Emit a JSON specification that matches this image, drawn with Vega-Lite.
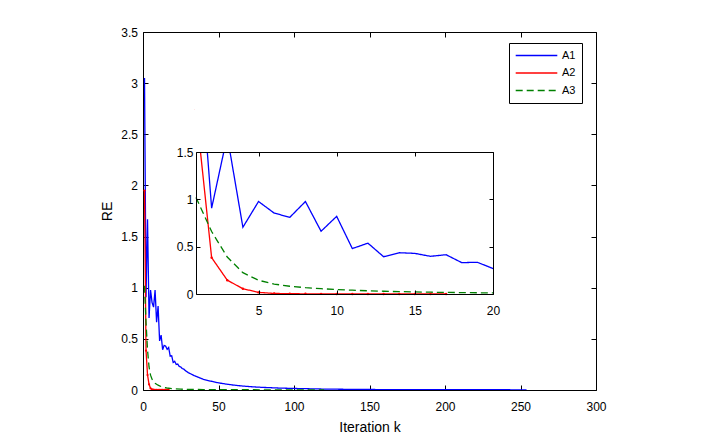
{
 "$schema": "https://vega.github.io/schema/vega-lite/v6.json",
 "autosize": "none",
 "width": 453,
 "height": 358,
 "padding": {"left": 143, "top": 32, "right": 119, "bottom": 48},
 "background": "white",
 "config": {
  "font": "Liberation Sans",
  "view": {"stroke": null},
  "axis": {"domainColor": "black", "tickColor": "black", "labelColor": "black", "titleColor": "black", "labelFontSize": 12, "titleFontSize": 14, "titleFontWeight": "normal", "grid": false, "tickSize": -5, "domainWidth": 1, "tickWidth": 1, "labelFont": "Liberation Sans", "titleFont": "Liberation Sans", "format": "~f", "labelFlush": false},
  "axisX": {"labelPadding": 16},
  "axisY": {"labelPadding": 10.5}
 },
 "datasets": {
  "re": [
   {"k":1,"v":3.05,"s":"A1"},{"k":2,"v":0.907,"s":"A1"},{"k":3,"v":1.67,"s":"A1"},{"k":4,"v":0.705,"s":"A1"},{"k":5,"v":0.977,"s":"A1"},{"k":6,"v":0.855,"s":"A1"},{"k":7,"v":0.81,"s":"A1"},{"k":8,"v":0.977,"s":"A1"},{"k":9,"v":0.663,"s":"A1"},{"k":10,"v":0.82,"s":"A1"},{"k":11,"v":0.48,"s":"A1"},{"k":12,"v":0.537,"s":"A1"},{"k":13,"v":0.394,"s":"A1"},{"k":14,"v":0.436,"s":"A1"},{"k":15,"v":0.429,"s":"A1"},{"k":16,"v":0.398,"s":"A1"},{"k":17,"v":0.415,"s":"A1"},{"k":18,"v":0.331,"s":"A1"},{"k":19,"v":0.335,"s":"A1"},{"k":20,"v":0.269,"s":"A1"},{"k":21,"v":0.28,"s":"A1"},{"k":22,"v":0.25,"s":"A1"},{"k":23,"v":0.255,"s":"A1"},{"k":24,"v":0.23,"s":"A1"},{"k":25,"v":0.225,"s":"A1"},{"k":26,"v":0.21,"s":"A1"},{"k":27,"v":0.205,"s":"A1"},{"k":28,"v":0.19,"s":"A1"},{"k":29,"v":0.18,"s":"A1"},{"k":30,"v":0.17,"s":"A1"},{"k":32,"v":0.155,"s":"A1"},{"k":34,"v":0.14,"s":"A1"},{"k":36,"v":0.128,"s":"A1"},{"k":38,"v":0.116,"s":"A1"},{"k":40,"v":0.105,"s":"A1"},{"k":45,"v":0.086,"s":"A1"},{"k":50,"v":0.07,"s":"A1"},{"k":55,"v":0.058,"s":"A1"},{"k":60,"v":0.048,"s":"A1"},{"k":65,"v":0.04,"s":"A1"},{"k":70,"v":0.034,"s":"A1"},{"k":75,"v":0.029,"s":"A1"},{"k":80,"v":0.025,"s":"A1"},{"k":90,"v":0.019,"s":"A1"},{"k":100,"v":0.015,"s":"A1"},{"k":110,"v":0.012,"s":"A1"},{"k":120,"v":0.009,"s":"A1"},{"k":140,"v":0.006,"s":"A1"},{"k":160,"v":0.004,"s":"A1"},{"k":200,"v":0.003,"s":"A1"},{"k":254,"v":0.002,"s":"A1"},
   {"k":1,"v":1.95,"s":"A2"},{"k":2,"v":0.384,"s":"A2"},{"k":3,"v":0.146,"s":"A2"},{"k":4,"v":0.056,"s":"A2"},{"k":5,"v":0.017,"s":"A2"},{"k":6,"v":0.006,"s":"A2"},{"k":7,"v":0.003,"s":"A2"},{"k":8,"v":0.002,"s":"A2"},{"k":9,"v":0.0015,"s":"A2"},{"k":10,"v":0.001,"s":"A2"},{"k":11,"v":0.0008,"s":"A2"},{"k":12,"v":0.0006,"s":"A2"},{"k":13,"v":0.0005,"s":"A2"},{"k":14,"v":0.0004,"s":"A2"},{"k":15,"v":0.0003,"s":"A2"},{"k":16,"v":0.0003,"s":"A2"},{"k":17,"v":0.0002,"s":"A2"},
   {"k":1,"v":1.02,"s":"A3"},{"k":2,"v":0.66,"s":"A3"},{"k":3,"v":0.39,"s":"A3"},{"k":4,"v":0.225,"s":"A3"},{"k":5,"v":0.145,"s":"A3"},{"k":6,"v":0.105,"s":"A3"},{"k":7,"v":0.082,"s":"A3"},{"k":8,"v":0.067,"s":"A3"},{"k":9,"v":0.056,"s":"A3"},{"k":10,"v":0.047,"s":"A3"},{"k":11,"v":0.04,"s":"A3"},{"k":12,"v":0.034,"s":"A3"},{"k":13,"v":0.029,"s":"A3"},{"k":14,"v":0.025,"s":"A3"},{"k":15,"v":0.022,"s":"A3"},{"k":16,"v":0.019,"s":"A3"},{"k":17,"v":0.017,"s":"A3"},{"k":18,"v":0.015,"s":"A3"},{"k":19,"v":0.013,"s":"A3"},{"k":20,"v":0.012,"s":"A3"},{"k":25,"v":0.008,"s":"A3"},{"k":30,"v":0.006,"s":"A3"},{"k":40,"v":0.004,"s":"A3"},{"k":60,"v":0.003,"s":"A3"},{"k":80,"v":0.002,"s":"A3"},{"k":100,"v":0.0015,"s":"A3"},{"k":120,"v":0.001,"s":"A3"}
  ]
 },
 "resolve": {"scale": {"x": "independent", "y": "independent"}},
 "layer": [
  {
   "data": {"name": "re"},
   "resolve": {"axis": {"x": "independent", "y": "independent"}},
   "layer": [
    {
     "mark": {"type": "line", "strokeWidth": 1.3, "clip": true},
     "encoding": {
      "x": {"field": "k", "type": "quantitative", "scale": {"domain": [0, 300], "nice": false}, "axis": {"values": [0,50,100,150,200,250,300], "title": "Iteration k", "titlePadding": 8}},
      "y": {"field": "v", "type": "quantitative", "scale": {"domain": [0, 3.5], "nice": false}, "axis": {"values": [0,0.5,1,1.5,2,2.5,3,3.5], "title": "RE", "titlePadding": 6}},
      "color": {"field": "s", "type": "nominal", "scale": {"domain": ["A1","A2","A3"], "range": ["#0000ff","#ff0000","#008000"]}, "legend": {"title": null, "orient": "none", "legendX": 366, "legendY": 11, "symbolType": "stroke", "symbolSize": 1730, "clipHeight": 13, "rowPadding": 4.5, "padding": 6, "labelOffset": 4, "labelFontSize": 11, "labelFont": "Liberation Sans", "labelColor": "black", "strokeColor": "black", "fillColor": "white", "symbolStrokeWidth": 1.3}},
      "strokeDash": {"field": "s", "type": "nominal", "scale": {"domain": ["A1","A2","A3"], "range": [[1,0],[1,0],[7,4]]}, "legend": {"title": null, "orient": "none", "legendX": 366, "legendY": 11, "symbolType": "stroke", "symbolSize": 1730, "clipHeight": 13, "rowPadding": 4.5, "padding": 6, "labelOffset": 4, "labelFontSize": 11, "labelFont": "Liberation Sans", "labelColor": "black", "strokeColor": "black", "fillColor": "white", "symbolStrokeWidth": 1.3}}
     }
    },
    {
     "transform": [{"filter": "datum.s === 'A2'"}],
     "mark": {"type": "point", "filled": true, "size": 5, "color": "#ff0000", "opacity": 1, "clip": true},
     "encoding": {
      "x": {"field": "k", "type": "quantitative", "scale": {"domain": [0, 300], "nice": false}, "axis": null},
      "y": {"field": "v", "type": "quantitative", "scale": {"domain": [0, 3.5], "nice": false}, "axis": null}
     }
    },
    {
     "mark": {"type": "line", "opacity": 0},
     "encoding": {
      "x": {"field": "k", "type": "quantitative", "scale": {"domain": [0, 300], "nice": false}, "axis": {"orient": "top", "values": [0,50,100,150,200,250,300], "labels": false, "title": null, "zindex": 1}},
      "y": {"field": "v", "type": "quantitative", "scale": {"domain": [0, 3.5], "nice": false}, "axis": {"orient": "right", "values": [0,0.5,1,1.5,2,2.5,3,3.5], "labels": false, "title": null, "zindex": 1}}
     }
    }
   ]
  },
  {
   "resolve": {"axis": {"x": "independent", "y": "independent"}},
   "layer": [
    {
     "data": {"values": [{}]},
     "mark": {"type": "rect", "fill": "white", "strokeWidth": 0},
     "encoding": {
      "x": {"datum": 1, "type": "quantitative", "scale": {"domain": [1, 20], "range": [53, 350], "nice": false, "zero": false}, "axis": null},
      "x2": {"datum": 20},
      "y": {"datum": 0, "type": "quantitative", "scale": {"domain": [0, 1.5], "range": [262, 120], "nice": false, "zero": false}, "axis": null},
      "y2": {"datum": 1.5}
     }
    },
    {
     "data": {"name": "re"},
     "transform": [{"filter": "datum.k <= 20"}],
     "mark": {"type": "line", "strokeWidth": 1.3},
     "encoding": {
      "x": {"field": "k", "type": "quantitative", "scale": {"domain": [1, 20], "range": [53, 350], "nice": false, "zero": false}, "axis": {"values": [5,10,15,20], "title": null, "offset": -96, "zindex": 1, "tickSize": -4, "labelPadding": 15}},
      "y": {"field": "v", "type": "quantitative", "scale": {"domain": [0, 1.5], "range": [262, 120], "nice": false, "zero": false}, "axis": {"values": [0,0.5,1,1.5], "title": null, "offset": -53, "zindex": 1, "tickSize": -4, "labelPadding": 7}},
      "color": {"field": "s", "type": "nominal", "scale": {"domain": ["A1","A2","A3"], "range": ["#0000ff","#ff0000","#008000"]}},
      "strokeDash": {"field": "s", "type": "nominal", "scale": {"domain": ["A1","A2","A3"], "range": [[1,0],[1,0],[7,4]]}}
     }
    },
    {
     "data": {"name": "re"},
     "transform": [{"filter": "datum.s === 'A2' && datum.k <= 20"}],
     "mark": {"type": "point", "filled": true, "size": 6, "color": "#ff0000", "opacity": 1},
     "encoding": {
      "x": {"field": "k", "type": "quantitative", "scale": {"domain": [1, 20], "range": [53, 350], "nice": false, "zero": false}, "axis": null},
      "y": {"field": "v", "type": "quantitative", "scale": {"domain": [0, 1.5], "range": [262, 120], "nice": false, "zero": false}, "axis": null}
     }
    },
    {
     "data": {"values": [{}]},
     "mark": {"type": "rect", "fill": "white", "strokeWidth": 0},
     "encoding": {
      "x": {"datum": 0.9, "type": "quantitative", "scale": {"domain": [1, 20], "range": [53, 350], "nice": false, "zero": false}, "axis": null},
      "x2": {"datum": 20},
      "y": {"datum": 1.5, "type": "quantitative", "scale": {"domain": [0, 1.5], "range": [262, 120], "nice": false, "zero": false}, "axis": null},
      "y2": {"datum": 3.2}
     }
    },
    {
     "data": {"name": "re"},
     "transform": [{"filter": "datum.k <= 20"}],
     "mark": {"type": "line", "opacity": 0},
     "encoding": {
      "x": {"field": "k", "type": "quantitative", "scale": {"domain": [1, 20], "range": [53, 350], "nice": false, "zero": false}, "axis": {"orient": "top", "values": [5,10,15,20], "labels": false, "title": null, "offset": -120, "zindex": 1, "tickSize": -4}},
      "y": {"field": "v", "type": "quantitative", "scale": {"domain": [0, 1.5], "range": [262, 120], "nice": false, "zero": false}, "axis": {"orient": "right", "values": [0,0.5,1,1.5], "labels": false, "title": null, "offset": -103, "zindex": 1, "tickSize": -4}}
     }
    }
   ]
  }
 ]
}
